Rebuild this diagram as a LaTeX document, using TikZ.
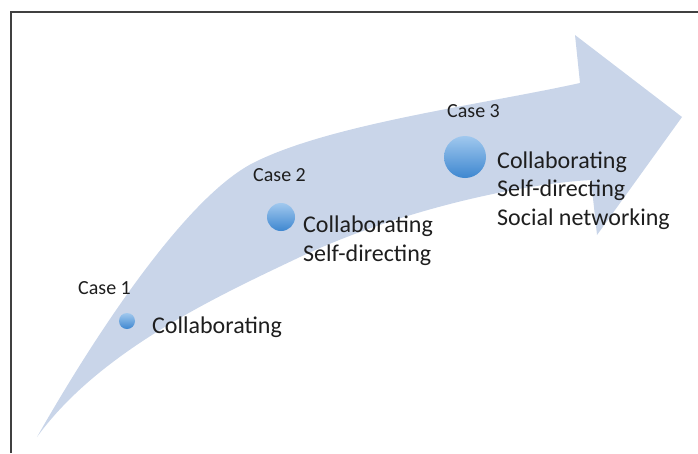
\documentclass[tikz,border=0pt]{standalone}
\usepackage{fontspec}
\setmainfont{Carlito}
\usepackage{tikz}
\usetikzlibrary{positioning,calc}

\definecolor{arrowfill}{RGB}{201,213,233}
\definecolor{balltop}{RGB}{160,200,238}
\definecolor{ballbot}{RGB}{62,135,208}
\definecolor{txt}{RGB}{30,30,30}

\begin{document}
\begin{tikzpicture}[
    x=1pt, y=-1pt,
    ball/.style={circle, inner sep=0pt, top color=balltop, bottom color=ballbot},
    caselabel/.style={inner sep=0pt, font=\fontsize{20}{24}\selectfont, text=txt},
    skills/.style={inner sep=0pt, align=left, font=\fontsize{24}{28.5}\selectfont, text=txt},
    frameline/.style={draw=black!75, line width=1.3pt}
]
    \useasboundingbox (0,0) rectangle (698,453);
    % frame
    \draw [frameline] (11,453) -- (11,12) -- (698,12);

    % the curved arrow
    \fill [arrowfill] (37,437) .. controls (95,335) and (185,198) .. (253,163)
        .. controls (330,124) and (480,105) .. (580,83)
        -- (575,35) -- (682,117) -- (597,235) -- (591,180)
        .. controls (520,184) and (400,210) .. (300,257)
        .. controls (220,295) and (100,350) .. (37,437) -- cycle;

    % cases
    \node [ball, minimum size=16pt] (b1) at (127,321) {};
    \node [ball, minimum size=28pt] (b2) at (281,217) {};
    \node [ball, minimum size=42pt] (b3) at (465,157) {};

    \node [caselabel, anchor=base west] (c1) at (78,294) {Case 1};
    \node [caselabel, anchor=base west] (c2) at (253,181) {Case 2};
    \node [caselabel, anchor=base west] (c3) at (447,117) {Case 3};

    % base anchor sits on the last line
    \node [skills, anchor=base west] (s1) at (152,333) {Collaborating};
    \node [skills, anchor=base west] (s2) at (303,261) {Collaborating\\Self-directing};
    \node [skills, anchor=base west] (s3) at (497,225) {Collaborating\\Self-directing\\Social networking};
\end{tikzpicture}
\end{document}
